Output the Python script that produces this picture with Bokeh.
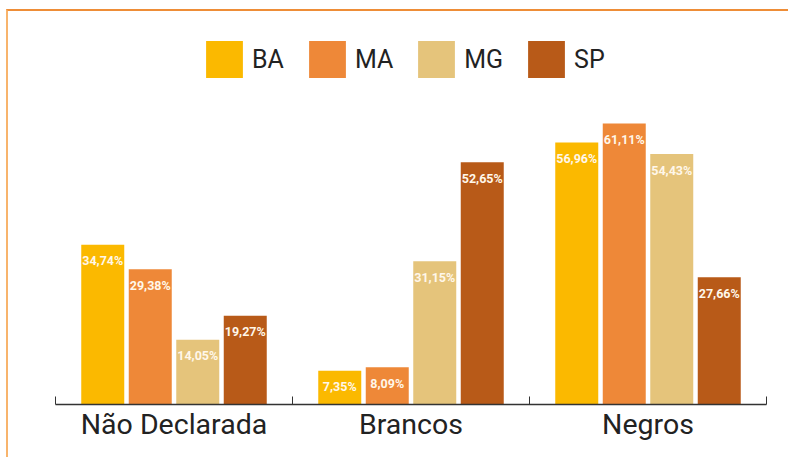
from bokeh.plotting import figure
from bokeh.models import ColumnDataSource, Range1d, FixedTicker, Legend, LegendItem, LinearAxis
from bokeh.core.properties import value
from bokeh.embed import file_html
from bokeh.resources import INLINE

categories = ["Não Declarada", "Brancos", "Negros"]
states = ["BA", "MA", "MG", "SP"]
colors = ["#FBB900", "#EE8838", "#E5C47B", "#B85A18"]
BA = [34.74, 7.35, 56.96]
MA = [29.38, 8.09, 61.11]
MG = [14.05, 31.15, 54.43]
SP = [19.27, 52.65, 27.66]
series = [BA, MA, MG, SP]

W, H = 782, 448
p = figure(width=W, height=H, output_backend="svg", toolbar_location=None,
           x_range=Range1d(0, 3), y_range=Range1d(0, 393 / 4.6),
           min_border_left=47, min_border_right=24, min_border_top=0, min_border_bottom=55,
           x_axis_location=None, y_axis_location=None)
p.margin = (9, 0, 0, 6)
p.styles = {"border-top": "2px solid #EE8D37", "border-left": "2px solid #F8B46C"}
p.outline_line_color = None
p.xgrid.visible = False
p.ygrid.visible = False

step = 47.5 / 237.0
bw = 43.0 / 237.0
items = []
for j, (name, vals, col) in enumerate(zip(states, series, colors)):
    xs = [i + 0.5 + (j - 1.5) * step for i in range(len(categories))]
    labels = [f"{v:.2f}".replace(".", ",") + "%" for v in vals]
    src = ColumnDataSource(dict(x=xs, top=vals, lab=labels))
    r = p.vbar(x="x", top="top", width=bw, bottom=0, source=src, fill_color=col, line_color=None)
    p.text(x="x", y="top", text="lab", source=src, text_align="center", text_baseline="middle",
           y_offset=16, text_color="#FFF7EA", text_font=value("Roboto"),
           text_font_size="12.5px", text_font_style="bold")
    items.append(LegendItem(label=name, renderers=[r]))

legend = Legend(items=items, orientation="horizontal", location=(146, 322),
                glyph_width=46, glyph_height=46, label_standoff=5, spacing=20,
                padding=0, margin=0, border_line_color=None, background_fill_alpha=0,
                label_text_font="Roboto", label_text_font_size="25px", label_text_color="#222222",
                label_height=46)
p.add_layout(legend, "center")

ax = LinearAxis(ticker=FixedTicker(ticks=[0.5, 1.5, 2.5], minor_ticks=[0, 1, 2, 3]))
ax.major_label_overrides = {0.5: categories[0], 1.5: categories[1], 2.5: categories[2]}
ax.major_tick_in = 0
ax.major_tick_out = 0
ax.minor_tick_in = 8
ax.minor_tick_out = 0
ax.minor_tick_line_color = "#333333"
ax.axis_line_color = "#333333"
ax.axis_line_width = 1.5
ax.major_label_text_font = "Roboto"
ax.major_label_text_font_size = "28.5px"
ax.major_label_text_color = "#222222"
ax.major_label_standoff = 3
p.add_layout(ax, "below")

open("out.html", "w").write(file_html(p, INLINE))
